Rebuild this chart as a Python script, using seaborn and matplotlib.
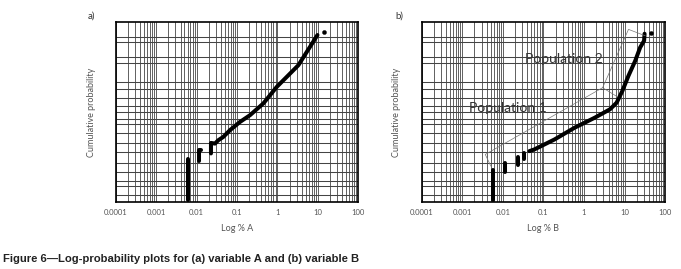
import numpy as np
import pandas as pd
import matplotlib
matplotlib.use('Agg')
import matplotlib.pyplot as plt
import seaborn as sns
from statistics import NormalDist

# ---- data (x = % value, p = cumulative probability) ----
# variable A
a_seg = ['dl'] * 5 + ['s2'] * 3 + ['main'] * 14
a_x = [0.006, 0.006, 0.006, 0.006, 0.006,
       0.0116, 0.0116, 0.013,
       0.0227, 0.0227, 0.0285, 0.0344, 0.0457, 0.067, 0.119, 0.21, 0.449,
       0.966, 1.71, 3.31, 5.35, 9.8]
a_p = [0.0013, 0.004, 0.012, 0.03, 0.055,
       0.047, 0.095, 0.095,
       0.078, 0.145, 0.14, 0.167, 0.197, 0.268, 0.369, 0.459, 0.618,
       0.808, 0.888, 0.947, 0.981, 0.996]
a_out_x = [14.4]
a_out_p = [0.9972]

# variable B
b_seg = ['dl'] * 4 + ['s2'] * 2 + ['s3'] * 2 + ['s4'] * 2 + ['main'] * 13
b_x = [0.0058, 0.0058, 0.0058, 0.0058,
       0.0114, 0.0114,
       0.0231, 0.0231,
       0.0338, 0.0338,
       0.045, 0.0598, 0.1875, 0.587, 1.84, 4.33, 6.34, 8.75, 12.3, 18.1,
       24.0, 30.0, 30.8]
b_p = [0.0013, 0.004, 0.012, 0.024,
       0.020, 0.041,
       0.034, 0.061,
       0.052, 0.081,
       0.09, 0.10, 0.174, 0.297, 0.425, 0.539, 0.628, 0.767, 0.893, 0.961,
       0.987, 0.993, 0.9965]
b_out_x = [44.0]
b_out_p = [0.9969]

# population outlines on panel b
pop_x = [0.0051, 0.0037, 2.86, 12.4, 32.0]
pop_p = [0.0315, 0.073, 0.80, 0.9978, 0.9957]
pop_branch_x = [2.86, 6.7]
pop_branch_p = [0.80, 0.70]

# probability gridlines
grid_p = [0.0023, 0.0054, 0.0087, 0.02, 0.04, 0.083, 0.145, 0.24, 0.34,
          0.41, 0.5, 0.59, 0.685, 0.786, 0.85, 0.954, 0.972, 0.992, 0.995]
x_ticks = [0.0001, 0.001, 0.01, 0.1, 1, 10, 100]
x_tick_labels = ['0.0001', '0.001', '0.01', '0.1', '1', '10', '100']

nd = NormalDist()


def p_to_z(p):
    p = np.clip(np.asarray(p, dtype=float), 1e-9, 1 - 1e-9)
    return np.vectorize(nd.inv_cdf, otypes=[float])(p)


def z_to_p(z):
    return np.vectorize(nd.cdf, otypes=[float])(np.asarray(z, dtype=float))


sns.set_style('white')
plt.rcParams['font.family'] = ['Lato', 'DejaVu Sans']

fig = plt.figure(figsize=(6.81, 2.69), dpi=100)
ax_a = fig.add_axes([0.170, 0.249, 0.356, 0.668])
ax_b = fig.add_axes([0.619, 0.249, 0.358, 0.668])

df_a = pd.DataFrame({'x': a_x, 'p': a_p, 'seg': a_seg})
df_b = pd.DataFrame({'x': b_x, 'p': b_p, 'seg': b_seg})

for ax, df, ox, op, lab in [(ax_a, df_a, a_out_x, a_out_p, 'Log % A'),
                            (ax_b, df_b, b_out_x, b_out_p, 'Log % B')]:
    sns.lineplot(data=df, x='x', y='p', units='seg', estimator=None, sort=False,
                 color='black', lw=2.9, ax=ax, legend=False)
    sns.scatterplot(x=ox, y=op, color='black', s=9, marker='o', ax=ax,
                    legend=False, edgecolor='black')
    ax.set_xscale('log')
    ax.set_yscale('function', functions=(p_to_z, z_to_p))
    ax.set_xlim(1e-4, 100)
    ax.set_ylim(0.001, 0.999)
    ax.set_xticks(x_ticks)
    ax.set_xticklabels(x_tick_labels)
    ax.xaxis.set_minor_locator(matplotlib.ticker.LogLocator(base=10, subs=np.arange(2, 10)))
    ax.xaxis.set_minor_formatter(matplotlib.ticker.NullFormatter())
    ax.set_yticks(grid_p)
    ax.set_yticklabels([])
    ax.yaxis.set_minor_locator(matplotlib.ticker.NullLocator())
    ax.tick_params(axis='y', length=0)
    ax.tick_params(axis='x', which='both', length=0, labelsize=5.5,
                   labelcolor='#555', pad=5)
    ax.grid(True, axis='x', which='both', color='#555', lw=0.65)
    ax.grid(True, axis='y', which='major', color='#444', lw=0.75)
    ax.set_axisbelow(True)
    for s in ax.spines.values():
        s.set_color('black')
        s.set_linewidth(1.2)
    ax.set_xlabel(lab, fontsize=6.5, color='#555')
    ax.xaxis.set_label_coords(0.5, -0.125)
    ax.set_ylabel('Cumulative probability', fontsize=6.5, color='#555')
    ax.yaxis.set_label_coords(-0.083, 0.5)

ax_b.plot(pop_x, pop_p, color='#777', lw=0.5)
ax_b.plot(pop_branch_x, pop_branch_p, color='#777', lw=0.5)
ax_b.text(0.0133, 0.56, 'Population 1', fontsize=10, color='#333',
          ha='center', va='center')
ax_b.text(0.32, 0.966, 'Population 2', fontsize=10, color='#333',
          ha='center', va='center')

fig.text(88 / 681, 1 - 16 / 269, 'a)', fontsize=7, color='#333', va='center')
fig.text(395 / 681, 1 - 16 / 269, 'b)', fontsize=7, color='#333', va='center')
fig.text(3 / 681, 1 - 259 / 269,
         'Figure 6\u2014Log-probability plots for (a) variable A and (b) variable B',
         fontsize=8.1, fontweight='bold', family=['Liberation Sans', 'DejaVu Sans'],
         color='#222', va='center')

fig.savefig('out.png', dpi=100)
